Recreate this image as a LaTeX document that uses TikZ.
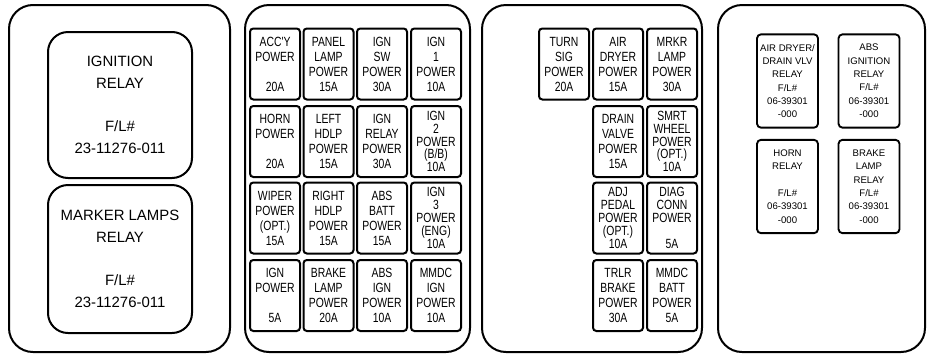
\documentclass[tikz,border=0pt]{standalone}
\usepackage{fontspec}
\setmainfont{Liberation Sans}
\newfontfamily\narrowfont[FakeStretch=0.78]{Liberation Sans}
\begin{document}
\begin{tikzpicture}[x=0.75pt,y=-0.75pt,
  panel/.style={draw,line width=1.5pt,rounded corners=18pt},
  bigrelay/.style={draw,line width=1.5pt,rounded corners=15pt,minimum width=108pt,inner sep=0pt,align=center,font=\fontsize{11.2}{16.2}\selectfont},
  fuse/.style={draw,line width=1.5pt,rounded corners=2.5pt,minimum width=37.5pt,minimum height=53.25pt,inner sep=0pt,align=center,font=\narrowfont\fontsize{10}{11.25}\selectfont},
  fusefive/.style={fuse,font=\narrowfont\fontsize{10}{9.6}\selectfont},
  smallrelay/.style={draw,line width=1.4pt,rounded corners=3pt,minimum width=45.75pt,minimum height=70pt,inner sep=0pt,align=center,font=\fontsize{7.2}{10}\selectfont}]
\useasboundingbox (0,0) rectangle (927,354);

% outer panels
\draw[panel] (9,5) rectangle (230,352);
\draw[panel] (245,5) rectangle (470,352);
\draw[panel] (482,5) rectangle (702,352);
\draw[panel] (718,5) rectangle (925,352);

% panel 1
\node[bigrelay,minimum height=109.5pt] (ir) at (120,105) {IGNITION\\RELAY\\~\\F/L\#\\23-11276-011};
\node[bigrelay,minimum height=111pt] (mr) at (120,259) {MARKER LAMPS\\RELAY\\~\\F/L\#\\23-11276-011};

% panel 2
\node[fuse] (f11) at (275,64) {ACC'Y\\POWER\\~\\20A};
\node[fuse] (f12) at (328.5,64) {PANEL\\LAMP\\POWER\\15A};
\node[fuse] (f13) at (382,64) {IGN\\SW\\POWER\\30A};
\node[fuse] (f14) at (436,64) {IGN\\1\\POWER\\10A};

\node[fuse] (f21) at (275,141.5) {HORN\\POWER\\~\\20A};
\node[fuse] (f22) at (328.5,141.5) {LEFT\\HDLP\\POWER\\15A};
\node[fuse] (f23) at (382,141.5) {IGN\\RELAY\\POWER\\30A};
\node[fusefive] (f24) at (436,141.5) {IGN\\2\\POWER\\(B/B)\\10A};

\node[fuse] (f31) at (275,218) {WIPER\\POWER\\(OPT.)\\15A};
\node[fuse] (f32) at (328.5,218) {RIGHT\\HDLP\\POWER\\15A};
\node[fuse] (f33) at (382,218) {ABS\\BATT\\POWER\\15A};
\node[fusefive] (f34) at (436,218) {IGN\\3\\POWER\\(ENG)\\10A};

\node[fuse] (f41) at (275,295.5) {IGN\\POWER\\~\\5A};
\node[fuse] (f42) at (328.5,295.5) {BRAKE\\LAMP\\POWER\\20A};
\node[fuse] (f43) at (382,295.5) {ABS\\IGN\\POWER\\10A};
\node[fuse] (f44) at (436,295.5) {MMDC\\IGN\\POWER\\10A};

% panel 3
\node[fuse] (g11) at (564,64) {TURN\\SIG\\POWER\\20A};
\node[fuse] (g12) at (618,64) {AIR\\DRYER\\POWER\\15A};
\node[fuse] (g13) at (672,64) {MRKR\\LAMP\\POWER\\30A};

\node[fuse] (g22) at (618,141.5) {DRAIN\\VALVE\\POWER\\15A};
\node[fusefive] (g23) at (672,141.5) {SMRT\\WHEEL\\POWER\\(OPT.)\\10A};

\node[fusefive] (g32) at (618,218) {ADJ\\PEDAL\\POWER\\(OPT.)\\10A};
\node[fusefive] (g33) at (672,218) {DIAG\\CONN\\POWER\\~\\5A};

\node[fuse] (g42) at (618,295.5) {TRLR\\BRAKE\\POWER\\30A};
\node[fuse] (g43) at (672,295.5) {MMDC\\BATT\\POWER\\5A};

% panel 4
\node[smallrelay] (r1) at (787.5,81) {AIR DRYER/\\DRAIN VLV\\RELAY\\F/L\#\\06-39301\\-000};
\node[smallrelay] (r2) at (869,81) {ABS\\IGNITION\\RELAY\\F/L\#\\06-39301\\-000};
\node[smallrelay] (r3) at (787.5,186.5) {HORN\\RELAY\\~\\F/L\#\\06-39301\\-000};
\node[smallrelay] (r4) at (869,186.5) {BRAKE\\LAMP\\RELAY\\F/L\#\\06-39301\\-000};
\end{tikzpicture}
\end{document}
